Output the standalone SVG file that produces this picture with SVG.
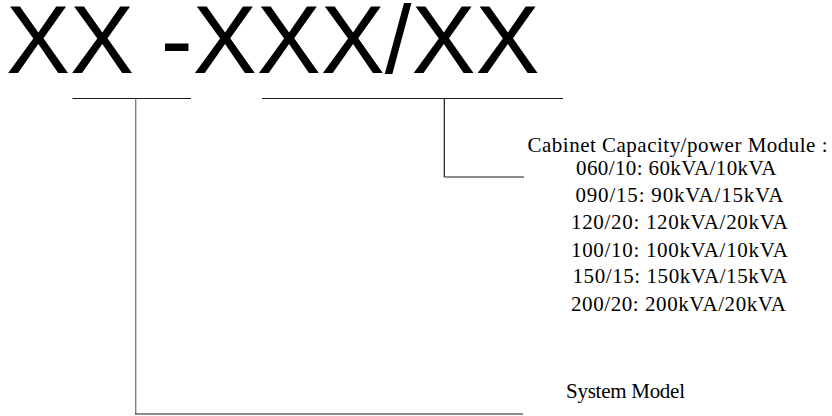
<svg xmlns="http://www.w3.org/2000/svg" width="832" height="416" viewBox="0 0 832 416">
<style>
.title{font-family:"Liberation Sans",Arial,sans-serif;font-size:96px;fill:#000}
.lbl{font-family:"Liberation Serif","Times New Roman",serif;font-size:21px;fill:#000}
.ln{stroke:#1a1a1a;stroke-width:1.2;fill:none}
.gr{stroke:#808080;stroke-width:1.4;fill:none}
</style>
<rect width="832" height="416" fill="#fff"/>
<g id="title">
<text class="title" x="6" y="73">XX -XXX/XX</text>
</g>
<g id="connectors">
<line class="ln" x1="72.5" y1="98.5" x2="191" y2="98.5"/>
<line class="gr" x1="135.7" y1="98.5" x2="135.7" y2="414"/>
<line class="ln" x1="135" y1="414" x2="523" y2="414"/>
<line class="ln" x1="262" y1="98.5" x2="563" y2="98.5"/>
<line class="ln" x1="444.3" y1="98.5" x2="444.3" y2="177"/>
<line class="ln" x1="444.3" y1="177" x2="524" y2="177"/>
</g>
<g id="capacity">
<text class="lbl" x="527.5" y="152" textLength="300" lengthAdjust="spacing">Cabinet Capacity/power Module :</text>
<text class="lbl" x="576" y="175" textLength="200.5" lengthAdjust="spacing">060/10: 60kVA/10kVA</text>
<text class="lbl" x="575.5" y="201.5" textLength="208" lengthAdjust="spacing">090/15: 90kVA/15kVA</text>
<text class="lbl" x="571" y="229" textLength="217" lengthAdjust="spacing">120/20: 120kVA/20kVA</text>
<text class="lbl" x="571" y="256.5" textLength="217" lengthAdjust="spacing">100/10: 100kVA/10kVA</text>
<text class="lbl" x="572.5" y="283" textLength="215" lengthAdjust="spacing">150/15: 150kVA/15kVA</text>
<text class="lbl" x="571" y="310.5" textLength="215" lengthAdjust="spacing">200/20: 200kVA/20kVA</text>
</g>
<g id="system-model">
<text class="lbl" x="566" y="397.5" textLength="119" lengthAdjust="spacing">System Model</text>
</g>
</svg>
